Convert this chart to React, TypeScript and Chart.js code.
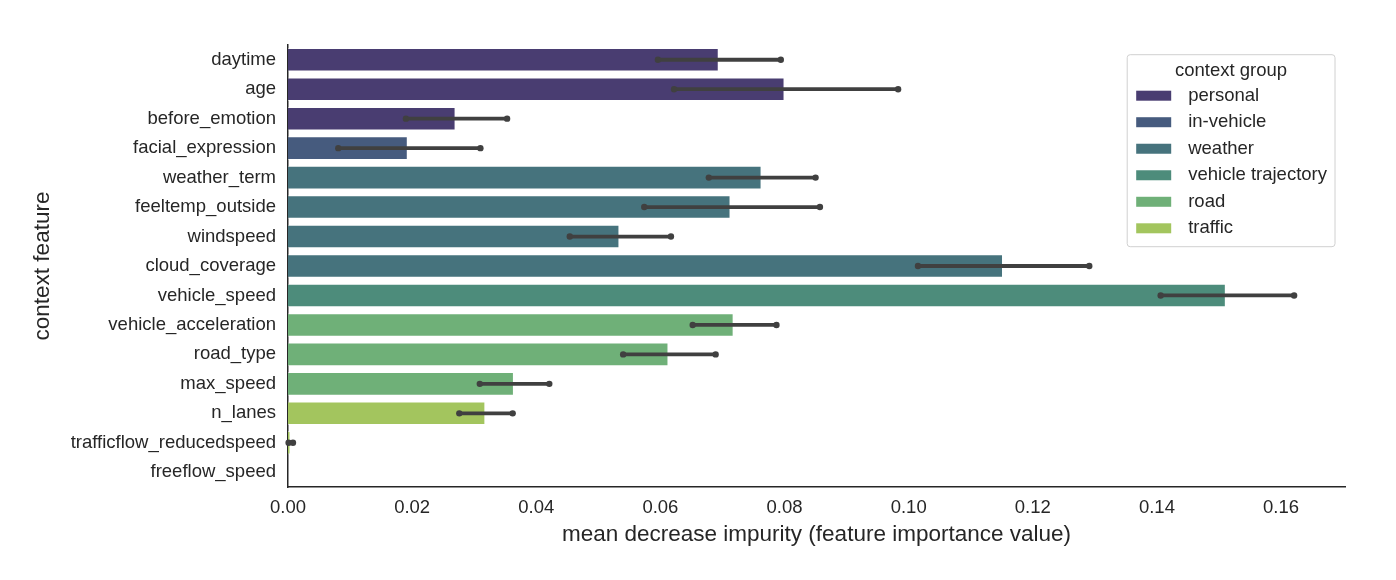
import React, { useEffect, useRef } from "react";
import { Chart, registerables } from "chart.js";

Chart.register(...registerables);

const FONT = '"Liberation Sans", Arial, Helvetica, sans-serif';
const TEXT = "#262626";

const features = [
  "daytime",
  "age",
  "before_emotion",
  "facial_expression",
  "weather_term",
  "feeltemp_outside",
  "windspeed",
  "cloud_coverage",
  "vehicle_speed",
  "vehicle_acceleration",
  "road_type",
  "max_speed",
  "n_lanes",
  "trafficflow_reducedspeed",
  "freeflow_speed",
];

const featureGroup = [
  "personal",
  "personal",
  "personal",
  "in-vehicle",
  "weather",
  "weather",
  "weather",
  "weather",
  "vehicle trajectory",
  "road",
  "road",
  "road",
  "traffic",
  "traffic",
  "traffic",
];

const importance = [
  0.0694, 0.08, 0.027, 0.0193, 0.0763, 0.0713, 0.0534, 0.1152, 0.1511, 0.0718,
  0.0613, 0.0364, 0.0318, 0.0004, 0.0,
];

const errLow = [
  0.0596, 0.0622, 0.019, 0.0081, 0.0678, 0.0574, 0.0454, 0.1015, 0.1406, 0.0652,
  0.054, 0.0309, 0.0276, 0.0001, 0.0,
];

const errHigh = [
  0.0794, 0.0983, 0.0353, 0.031, 0.085, 0.0857, 0.0617, 0.1291, 0.1621, 0.0787,
  0.0689, 0.0421, 0.0362, 0.0008, 0.0,
];

const legendTitle = "context group";
const legendGroups = ["personal", "in-vehicle", "weather", "vehicle trajectory", "road", "traffic"];
const groupColors = ["#493D71", "#465B7E", "#46737D", "#4D8C7B", "#6FB078", "#A3C55E"];

const xTicks = [0, 0.02, 0.04, 0.06, 0.08, 0.1, 0.12, 0.14, 0.16];
const xMax = 0.1703;

const colorOf = (g: string) => groupColors[legendGroups.indexOf(g)];

const errorBarPlugin = {
  id: "errorBars",
  afterDatasetsDraw(chart: any) {
    const { ctx } = chart;
    const xs = chart.scales.x;
    const ys = chart.scales.y;
    ctx.save();
    ctx.strokeStyle = "#404040";
    ctx.fillStyle = "#404040";
    ctx.lineWidth = 3.8;
    ctx.lineCap = "butt";
    for (let i = 0; i < features.length; i++) {
      if (!(errHigh[i] > errLow[i])) continue;
      const y = ys.getPixelForValue(i);
      const x1 = xs.getPixelForValue(errLow[i]);
      const x2 = xs.getPixelForValue(errHigh[i]);
      ctx.beginPath();
      ctx.moveTo(x1, y);
      ctx.lineTo(x2, y);
      ctx.stroke();
      for (const x of [x1, x2]) {
        ctx.beginPath();
        ctx.arc(x, y, 3.2, 0, Math.PI * 2);
        ctx.fill();
      }
    }
    ctx.restore();
  },
};

const legendPlugin = {
  id: "groupLegend",
  afterDraw(chart: any) {
    const { ctx, chartArea } = chart;
    ctx.save();
    ctx.font = `18.5px ${FONT}`;
    const textW = Math.max(...legendGroups.map((g) => ctx.measureText(g).width));
    const titleW = ctx.measureText(legendTitle).width;
    const padL = 9;
    const swW = 35;
    const swH = 10;
    const gap = 17;
    const padR = 8;
    const boxW = padL + swW + gap + Math.max(textW, titleW) + padR;
    const right = chartArea.right - 10;
    const left = right - boxW;
    const top = chartArea.top + 9.7;
    const boxH = 192;
    const r = 3;
    ctx.beginPath();
    ctx.moveTo(left + r, top);
    ctx.lineTo(right - r, top);
    ctx.arcTo(right, top, right, top + r, r);
    ctx.lineTo(right, top + boxH - r);
    ctx.arcTo(right, top + boxH, right - r, top + boxH, r);
    ctx.lineTo(left + r, top + boxH);
    ctx.arcTo(left, top + boxH, left, top + boxH - r, r);
    ctx.lineTo(left, top + r);
    ctx.arcTo(left, top, left + r, top, r);
    ctx.closePath();
    ctx.fillStyle = "rgba(255,255,255,0.8)";
    ctx.fill();
    ctx.strokeStyle = "#d0d0d0";
    ctx.lineWidth = 1;
    ctx.stroke();

    ctx.fillStyle = TEXT;
    ctx.textBaseline = "middle";
    ctx.textAlign = "center";
    ctx.fillText(legendTitle, (left + right) / 2, top + 16);
    ctx.textAlign = "left";
    legendGroups.forEach((g, k) => {
      const cy = top + 41 + k * 26.52;
      ctx.fillStyle = groupColors[k];
      ctx.fillRect(left + padL, cy - swH / 2, swW, swH);
      ctx.fillStyle = TEXT;
      ctx.fillText(g, left + padL + swW + gap, cy);
    });
    ctx.restore();
  },
};

export default function App() {
  const ref = useRef<HTMLCanvasElement | null>(null);

  useEffect(() => {
    if (!ref.current) return;
    const chart = new Chart(ref.current, {
      type: "bar",
      data: {
        labels: features,
        datasets: [
          {
            data: importance,
            backgroundColor: featureGroup.map(colorOf),
            borderColor: "rgba(255,255,255,0.45)",
            borderWidth: 1,
            barPercentage: 0.8,
            categoryPercentage: 1.0,
          },
        ],
      },
      options: {
        indexAxis: "y",
        responsive: false,
        animation: false,
        layout: { padding: { top: 45, right: 51, bottom: 0, left: 0 } },
        plugins: {
          legend: { display: false },
          tooltip: { enabled: false },
        },
        scales: {
          x: {
            type: "linear",
            min: 0,
            max: xMax,
            afterBuildTicks: (s: any) => {
              s.ticks = xTicks.map((v) => ({ value: v }));
            },
            afterFit: (s: any) => {
              s.height = 93;
            },
            grid: { display: false, drawTicks: false, tickLength: 0 },
            border: { display: true, color: TEXT, width: 1.5 },
            ticks: {
              color: TEXT,
              font: { family: FONT, size: 18.5 },
              padding: 10,
              maxRotation: 0,
              autoSkip: false,
              callback: (v: any) => Number(v).toFixed(2),
            },
            title: {
              display: true,
              text: "mean decrease impurity (feature importance value)",
              color: TEXT,
              font: { family: FONT, size: 22.5 },
              padding: { top: 0, bottom: 31.5 },
            },
          },
          y: {
            type: "category",
            offset: true,
            afterFit: (s: any) => {
              s.width = 288;
            },
            grid: { display: false, drawTicks: false, tickLength: 0 },
            border: { display: true, color: TEXT, width: 1.5 },
            ticks: {
              color: TEXT,
              font: { family: FONT, size: 18.5 },
              padding: 12,
              autoSkip: false,
            },
            title: {
              display: true,
              text: "context feature",
              color: TEXT,
              font: { family: FONT, size: 22.5 },
              padding: { top: 29.5, bottom: 0 },
            },
          },
        },
      },
      plugins: [errorBarPlugin, legendPlugin],
    } as any);
    return () => chart.destroy();
  }, []);

  return (
    <div style={{ position: "absolute", left: 0, top: 0, width: 1396, height: 580, background: "#fff" }}>
      <canvas ref={ref} width={1396} height={580} style={{ display: "block", width: 1396, height: 580 }} />
    </div>
  );
}
